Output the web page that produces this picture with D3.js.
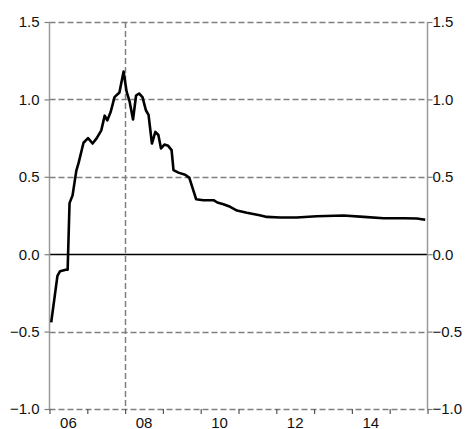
<!DOCTYPE html>
<html><head><meta charset="utf-8">
<script src="https://cdn.jsdelivr.net/npm/d3@7"></script>
<style>body{margin:0;background:#fff}svg{display:block}text{font-family:"Liberation Sans",Arial,sans-serif;font-size:15px;fill:#111}</style>
</head><body>
<script>
const years = [2006.045,2006.21,2006.28,2006.43,2006.48,2006.53,2006.61,2006.71,2006.77,2006.90,2007.02,2007.14,2007.25,2007.37,2007.46,2007.53,2007.62,2007.72,2007.85,2007.96,2008.04,2008.12,2008.21,2008.29,2008.37,2008.46,2008.55,2008.62,2008.71,2008.80,2008.88,2008.95,2009.04,2009.14,2009.23,2009.28,2009.41,2009.59,2009.70,2009.79,2009.88,2010.07,2010.34,2010.44,2010.60,2010.78,2010.96,2011.22,2011.56,2011.75,2012.10,2012.54,2013.07,2013.78,2014.31,2014.84,2015.37,2015.72,2015.94];
const values = [-0.44,-0.14,-0.11,-0.10,-0.10,0.33,0.38,0.54,0.59,0.72,0.75,0.715,0.75,0.80,0.895,0.865,0.92,1.015,1.045,1.18,1.05,0.985,0.87,1.025,1.038,1.015,0.93,0.90,0.715,0.79,0.77,0.683,0.708,0.70,0.672,0.543,0.527,0.513,0.493,0.424,0.355,0.349,0.349,0.334,0.323,0.306,0.282,0.268,0.252,0.241,0.237,0.237,0.245,0.25,0.241,0.232,0.232,0.231,0.222];
const yTicks = [-1.0,-0.5,0.0,0.5,1.0,1.5];
const xTickYears = [2006,2007,2008,2009,2010,2011,2012,2013,2014,2015,2016];
const xLabels = [{y:2006,t:"06"},{y:2008,t:"08"},{y:2010,t:"10"},{y:2012,t:"12"},{y:2014,t:"14"}];
const markerYear = 2008;

const W=470,H=429, L=49.5, R=427.5, T=22, B=409;
const x = d3.scaleLinear().domain([2006,2016]).range([L,R]);
const y = d3.scaleLinear().domain([-1,1.5]).range([B,T]);
const svg = d3.select("body").append("svg").attr("width",W).attr("height",H);
const grid="#7f7f7f";
// horizontal gridlines
svg.selectAll("line.g").data(yTicks.filter(v=>v!==0)).enter().append("line")
  .attr("x1",L).attr("x2",R).attr("y1",d=>Math.round(y(d))+0.5).attr("y2",d=>Math.round(y(d))+0.5)
  .attr("stroke",grid).attr("stroke-width",1.5).attr("stroke-dasharray","6,3");
// vertical marker
svg.append("line").attr("x1",Math.round(x(markerYear))+0.5).attr("x2",Math.round(x(markerYear))+0.5)
  .attr("y1",T).attr("y2",B).attr("stroke",grid).attr("stroke-width",1.5).attr("stroke-dasharray","6,3");
// zero line
svg.append("line").attr("x1",L).attr("x2",R).attr("y1",Math.round(y(0))+0.5).attr("y2",Math.round(y(0))+0.5)
  .attr("stroke","#000").attr("stroke-width",1.3);
// left & right axes
const axL = d3.axisLeft(y).tickValues(yTicks).tickFormat(d3.format(".1f")).tickSize(5).tickPadding(5);
const axR = d3.axisRight(y).tickValues(yTicks).tickFormat(d3.format(".1f")).tickSize(5).tickPadding(0);
const gl = svg.append("g").attr("transform",`translate(${L},0)`).call(axL);
const gr = svg.append("g").attr("transform",`translate(${R},0)`).call(axR);
[gl,gr].forEach(g=>{g.select(".domain").attr("stroke","#9a9a9a").attr("stroke-width",1.5).attr("d",`M0,${T}V${B}`);
  g.selectAll(".tick line").attr("stroke","#7f7f7f").attr("stroke-width",1.2);
  g.selectAll("text").style("font-size","15px").attr("fill","#111").attr("font-family",null);});
// bottom ticks
const axB = d3.axisBottom(x).tickValues(xTickYears).tickFormat("").tickSize(5);
const gb = svg.append("g").attr("transform",`translate(0,${B})`).call(axB);
gb.select(".domain").remove();
gb.selectAll(".tick line").attr("stroke","#555").attr("stroke-width",1.2);
svg.selectAll("text.xl").data(xLabels).enter().append("text")
  .attr("x",d=>x(d.y+0.5)).attr("y",428).attr("text-anchor","middle").text(d=>d.t);
// line
const pts = years.map((yr,i)=>[yr,values[i]]);
svg.append("path").datum(pts).attr("fill","none").attr("stroke","#000").attr("stroke-width",2.6)
  .attr("stroke-linejoin","round")
  .attr("d",d3.line().x(d=>x(d[0])).y(d=>y(d[1])));
</script>
</body></html>
